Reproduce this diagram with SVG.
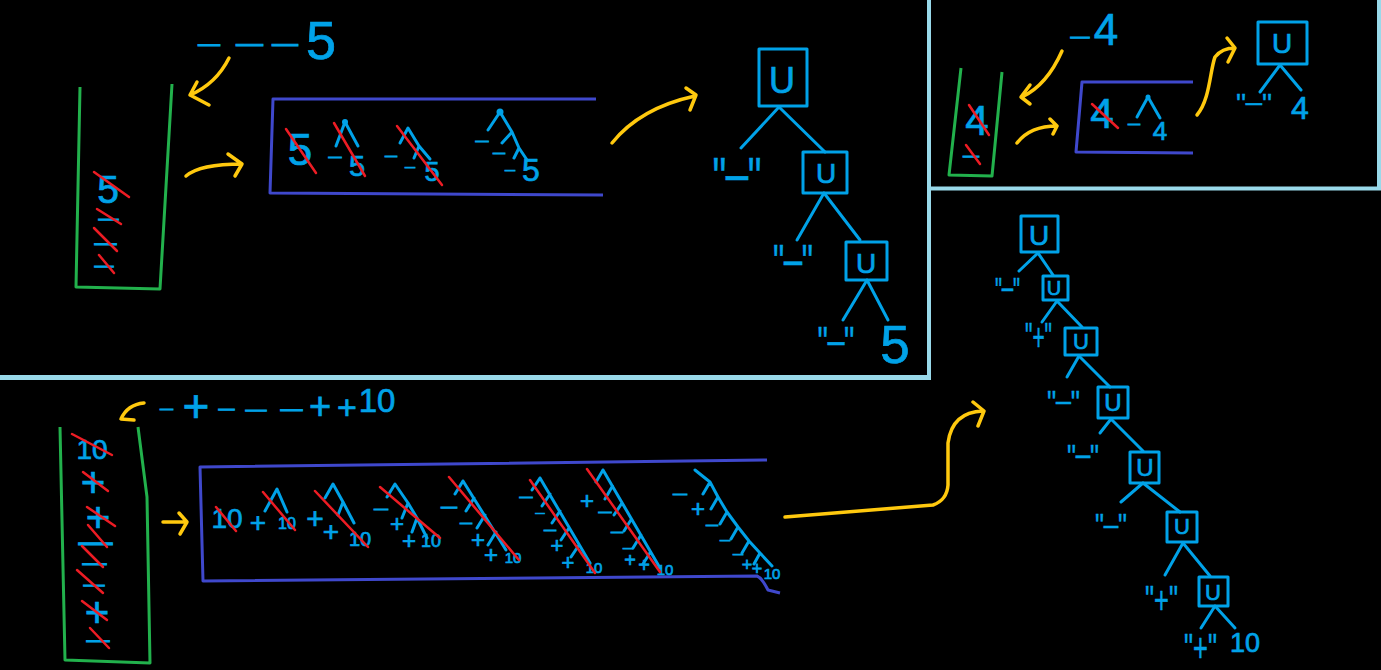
<svg xmlns="http://www.w3.org/2000/svg" width="1381" height="670" viewBox="0 0 1381 670">
<defs><style>
.t{fill:#00a2e8;stroke:#00a2e8;stroke-width:0.7;font-family:'Liberation Sans',Arial,sans-serif;text-anchor:middle;dominant-baseline:central}
.d{stroke-width:1}
.q{dominant-baseline:auto;stroke-width:0.3}
.l{stroke:#00a2e8;stroke-width:3;fill:none;stroke-linecap:round;stroke-linejoin:round}
.dot{fill:#00a2e8}
.r{stroke:#ed1c24;stroke-width:2.5;stroke-linecap:round}
.y{stroke:#ffc90e;stroke-width:3.5;fill:none;stroke-linecap:round;stroke-linejoin:round}
.g{stroke:#22b14c;stroke-width:3;fill:none;stroke-linejoin:round}
.i{stroke:#3f48cc;stroke-width:3;fill:none;stroke-linejoin:round}
.p{stroke:#99d9ea;fill:none}
</style></defs>
<rect width="1381" height="670" fill="#000"/>

<g id="panels">
<line class="p" x1="0" y1="377.5" x2="931" y2="377.5" stroke-width="5"/>
<line class="p" x1="929" y1="0" x2="929" y2="380" stroke-width="4"/>
<line class="p" x1="929" y1="188.5" x2="1381" y2="188.5" stroke-width="4"/>
<line class="p" x1="1379" y1="0" x2="1379" y2="190" stroke-width="4"/>
</g>

<!-- top-left panel -->
<g id="tl-input">
<text class="t d" x="209" y="43" font-size="22">—</text>
<text class="t d" x="249.5" y="43" font-size="27">—</text>
<text class="t d" x="285" y="43" font-size="26">—</text>
<text class="t" x="321" y="40" font-size="54">5</text>
</g>

<g id="tl-stack">
<path class="g" d="M80,87 L76,287 L160,289 L172,84"/>
<text class="t" x="108" y="189" font-size="39">5</text>
<text class="t d" x="108.5" y="218" font-size="20">—</text>
<text class="t d" x="105.5" y="242.5" font-size="22">—</text>
<text class="t d" x="104" y="264.5" font-size="19">—</text>
<line class="r" x1="94" y1="172" x2="129" y2="197"/>
<line class="r" x1="97" y1="209" x2="121" y2="224"/>
<line class="r" x1="94" y1="228" x2="117" y2="251"/>
<line class="r" x1="99" y1="255" x2="114" y2="273"/>
</g>

<g id="tl-queue">
<path class="i" d="M596,99 L273,99 L270,193 L603,195"/>
<text class="t" x="300" y="149" font-size="44">5</text>
<line class="r" x1="286" y1="129" x2="316" y2="173"/>
<circle class="dot" cx="345" cy="122" r="3"/>
<path class="l" d="M336,146 L345,122 L358,146"/>
<text class="t d" x="335" y="156" font-size="13">—</text>
<text class="t" x="357" y="166" font-size="29">5</text>
<line class="r" x1="334" y1="123" x2="365" y2="176"/>
<path class="l" d="M400,143 L408,128 L419,146 L430,159 M419,146 L414,158"/>
<text class="t d" x="391" y="156" font-size="12">—</text>
<text class="t d" x="410" y="166" font-size="10">—</text>
<text class="t" x="432" y="172" font-size="27">5</text>
<line class="r" x1="397" y1="126" x2="442" y2="185"/>
<circle class="dot" cx="500" cy="112" r="3.5"/>
<path class="l" d="M488,130 L500,112 L512,132 L519,148 L527,160 M512,132 L502,143 M519,148 L514,158"/>
<text class="t d" x="482" y="140" font-size="13">—</text>
<text class="t d" x="499" y="153" font-size="12">—</text>
<text class="t d" x="510" y="169" font-size="10">—</text>
<text class="t" x="531" y="170" font-size="32">5</text>
</g>

<g id="tl-u1"><rect class="l" x="759" y="49" width="48" height="57"/><text class="t" x="782" y="80" font-size="36">U</text></g>
<g id="tl-u2"><rect class="l" x="803" y="152" width="44" height="41"/><text class="t" x="826" y="173" font-size="28">U</text></g>
<g id="tl-u3"><rect class="l" x="846" y="242" width="41" height="38"/><text class="t" x="866" y="263" font-size="28">U</text></g>
<g id="tl-leaf1"><text class="t q" transform="translate(737,197.7) scale(1,1.5)" font-size="38.7">"<tspan dy="-0.5em">_</tspan><tspan dy="0.5em">"</tspan></text></g>
<g id="tl-leaf2"><text class="t q" transform="translate(793,280.3) scale(1,1.6)" font-size="31.6">"<tspan dy="-0.5em">_</tspan><tspan dy="0.5em">"</tspan></text></g>
<g id="tl-leaf3"><text class="t q" transform="translate(836,358.3) scale(1,1.5)" font-size="29.2">"<tspan dy="-0.5em">_</tspan><tspan dy="0.5em">"</tspan></text></g>
<g id="tl-leaf4"><text class="t" x="895" y="344" font-size="53">5</text></g>

<!-- top-right panel -->
<g id="tr-input">
<text class="t d" x="1080" y="35" font-size="19">—</text>
<text class="t" x="1106" y="29" font-size="44">4</text>
</g>
<g id="tr-stack">
<path class="g" d="M961,68 L949,175 L992,176 L1002,72"/>
<text class="t" x="977" y="120" font-size="42">4</text>
<line class="r" x1="969" y1="105" x2="989" y2="135"/>
<text class="t d" x="971" y="155" font-size="16">—</text>
<line class="r" x1="966" y1="145" x2="980" y2="164"/>
</g>
<g id="tr-queue">
<path class="i" d="M1193,82 L1082,82 L1076,152 L1193,153"/>
<text class="t" x="1102" y="113" font-size="42">4</text>
<line class="r" x1="1092" y1="104" x2="1118" y2="128"/>
<text class="t d" x="1134" y="124" font-size="12">—</text>
<circle class="dot" cx="1148" cy="97" r="2.5"/>
<path class="l" d="M1137,117 L1148,97 L1160,118"/>
<text class="t" x="1160" y="131" font-size="26">4</text>
</g>
<g id="tr-u1"><rect class="l" x="1258" y="22" width="49" height="42"/><text class="t" x="1282" y="43" font-size="28">U</text></g>
<g id="tr-leaf1"><text class="t q" transform="translate(1254,112.8)" font-size="28.4">"<tspan dy="-0.5em">_</tspan><tspan dy="0.5em">"</tspan></text></g>
<g id="tr-leaf2"><text class="t" x="1300" y="108" font-size="32">4</text></g>

<!-- bottom-left panel -->
<g id="bl-input">
<text class="t d" x="166.5" y="408" font-size="13">—</text>
<text class="t" x="196" y="406" font-size="46">+</text>
<text class="t d" x="226.5" y="408" font-size="16">—</text>
<text class="t d" x="256" y="408" font-size="21">—</text>
<text class="t d" x="291.5" y="408" font-size="22">—</text>
<text class="t" x="320" y="406" font-size="38">+</text>
<text class="t" x="347" y="407" font-size="34">+</text>
<text class="t" x="377" y="400" font-size="33">10</text>
</g>
<g id="bl-stack">
<path class="g" d="M60,427 L65,660 L150,663 L147,497 L138,427"/>
<text class="t" x="92" y="449" font-size="28">10</text>
<text class="t" x="93" y="482" font-size="42">+</text>
<text class="t" x="98" y="517" font-size="42">+</text>
<text class="t d" x="95.5" y="539.5" font-size="34">—</text>
<text class="t d" x="94.5" y="561" font-size="24">—</text>
<text class="t d" x="94" y="583.5" font-size="21">—</text>
<text class="t" x="97" y="612" font-size="42">+</text>
<text class="t d" x="98" y="638.5" font-size="23">—</text>
<line class="r" x1="72" y1="434" x2="112" y2="455"/>
<line class="r" x1="83" y1="472" x2="108" y2="491"/>
<line class="r" x1="87" y1="507" x2="115" y2="526"/>
<line class="r" x1="88" y1="525" x2="107" y2="547"/>
<line class="r" x1="82" y1="546" x2="103" y2="567"/>
<line class="r" x1="77" y1="570" x2="103" y2="593"/>
<line class="r" x1="82" y1="601" x2="107" y2="620"/>
<line class="r" x1="90" y1="628" x2="109" y2="648"/>
</g>

<g id="bl-queue">
<path class="i" d="M767,460 L200,467 L203,581 L757,576 Q762,578 768,590 L780,593"/>
<text class="t" x="227" y="518" font-size="28">10</text>
<line class="r" x1="216" y1="507" x2="236" y2="531"/>
<text class="t" x="258" y="522" font-size="28">+</text>
<path class="l" d="M265,511 L277,489 L287,512"/>
<text class="t" x="287" y="523" font-size="16">10</text>
<line class="r" x1="263" y1="492" x2="295" y2="530"/>
<text class="t" x="315" y="518" font-size="30">+</text>
<path class="l" d="M325,498 L333,484 L343,502 L354,523 M343,502 L338,515"/>
<text class="t" x="331" y="531" font-size="28">+</text>
<text class="t" x="360" y="539" font-size="20">10</text>
<line class="r" x1="315" y1="491" x2="368" y2="547"/>
<text class="t d" x="381" y="508" font-size="14">—</text>
<path class="l" d="M387,497 L395,484 L408,503 L417,518 L427,538 M408,503 L402,518 M417,518 L412,532"/>
<text class="t" x="397" y="523" font-size="24">+</text>
<text class="t" x="409" y="540" font-size="24">+</text>
<text class="t" x="431" y="541" font-size="18">10</text>
<line class="r" x1="380" y1="487" x2="440" y2="538"/>
<text class="t d" x="449" y="506" font-size="16">—</text>
<path class="l" d="M463,481 L506,550 M463,481 L455,494 M474,498 L466,511 M485,515 L477,528 M496,532 L488,545"/>
<text class="t d" x="466" y="523" font-size="12">—</text>
<text class="t" x="478" y="539" font-size="24">+</text>
<text class="t" x="491" y="554" font-size="24">+</text>
<text class="t" x="513" y="557" font-size="15">10</text>
<line class="r" x1="449" y1="477" x2="519" y2="560"/>
<text class="t d" x="526" y="496" font-size="13">—</text>
<path class="l" d="M540,478 L590,563 M540,478 L532,490 M550,494 L542,506 M560,511 L552,523 M569,528 L561,540 M579,545 L571,557"/>
<text class="t d" x="540" y="513" font-size="9">—</text>
<text class="t d" x="550" y="530" font-size="12">—</text>
<text class="t" x="557" y="545" font-size="22">+</text>
<text class="t" x="568" y="562" font-size="22">+</text>
<text class="t" x="594" y="567" font-size="15">10</text>
<line class="r" x1="530" y1="480" x2="595" y2="573"/>
<text class="t" x="587" y="500" font-size="24">+</text>
<path class="l" d="M603,470 L660,568 M603,470 L596,482 M612.5,486 L605,499 M622,503 L614,515 M631.5,519 L624,531 M641,535 L633,548 M650.5,552 L643,564"/>
<text class="t d" x="605" y="511" font-size="13">—</text>
<text class="t d" x="617" y="532" font-size="12">—</text>
<text class="t d" x="628" y="547" font-size="10">—</text>
<text class="t" x="630" y="560" font-size="20">+</text>
<text class="t" x="644" y="565" font-size="20">+</text>
<text class="t" x="665" y="569" font-size="15">10</text>
<line class="r" x1="587" y1="469" x2="660" y2="572"/>
<text class="t d" x="680" y="493" font-size="14">—</text>
<path class="l" d="M695,470 L710,482 L718,497 L727,512 L738,527 L749,541 L760,553 L772,566 M710,482 L703,494 M718,497 L711,509 M727,512 L720,524 M738,527 L731,539 M749,541 L742,553 M760,553 L754,564"/>
<text class="t" x="698" y="508" font-size="24">+</text>
<text class="t d" x="712" y="525" font-size="12">—</text>
<text class="t d" x="725" y="539" font-size="10">—</text>
<text class="t d" x="738" y="553" font-size="10">—</text>
<text class="t" x="747" y="565" font-size="18">+</text>
<text class="t" x="757" y="569" font-size="18">+</text>
<text class="t" x="772" y="573" font-size="15">10</text>
</g>

<!-- bottom-right tree -->
<g id="br-u1"><rect class="l" x="1021" y="216" width="37" height="36"/><text class="t" x="1039" y="235" font-size="28">U</text></g>
<g id="br-u2"><rect class="l" x="1043" y="276" width="25" height="24"/><text class="t" x="1054" y="288" font-size="20">U</text></g>
<g id="br-u3"><rect class="l" x="1065" y="328" width="32" height="27"/><text class="t" x="1081" y="341" font-size="22">U</text></g>
<g id="br-u4"><rect class="l" x="1098" y="387" width="30" height="31"/><text class="t" x="1113" y="402" font-size="24">U</text></g>
<g id="br-u5"><rect class="l" x="1130" y="452" width="29" height="31"/><text class="t" x="1145" y="467" font-size="24">U</text></g>
<g id="br-u6"><rect class="l" x="1167" y="512" width="30" height="30"/><text class="t" x="1182" y="526" font-size="22">U</text></g>
<g id="br-u7"><rect class="l" x="1199" y="577" width="29" height="29"/><text class="t" x="1213" y="592" font-size="22">U</text></g>
<g id="br-leaf1"><text class="t q" transform="translate(1007.5,301.5) scale(1,1.8)" font-size="19.7">"<tspan dy="-0.5em">_</tspan><tspan dy="0.5em">"</tspan></text></g>
<g id="br-leaf2"><text class="t q" transform="translate(1038.5,349.5) scale(1,1.83)" font-size="20.9">"+"</text></g>
<g id="br-leaf3"><text class="t q" transform="translate(1063.5,413.6) scale(1,1.3)" font-size="26">"<tspan dy="-0.5em">_</tspan><tspan dy="0.5em">"</tspan></text></g>
<g id="br-leaf4"><text class="t q" transform="translate(1083,468.9) scale(1,1.4)" font-size="25.3">"<tspan dy="-0.5em">_</tspan><tspan dy="0.5em">"</tspan></text></g>
<g id="br-leaf5"><text class="t q" transform="translate(1111,537.1) scale(1,1.3)" font-size="25.3">"<tspan dy="-0.5em">_</tspan><tspan dy="0.5em">"</tspan></text></g>
<g id="br-leaf6"><text class="t q" transform="translate(1161.5,612.5) scale(1,1.5)" font-size="25.5">"+"</text></g>
<g id="br-leaf7"><text class="t q" transform="translate(1200.5,661.7) scale(1,1.57)" font-size="25.5">"+"</text></g>
<g id="br-leaf8"><text class="t" x="1245" y="643" font-size="27">10</text></g>

<g id="connectors">
<path class="y" d="M229,58 Q216,84 190,95 M197,82 L190,95 L209,105"/>
<path class="y" d="M186,176 Q200,164 242,164 M228,154 L242,164 L235,176"/>
<path class="y" d="M612,143 Q640,108 695,96 M686,88 L696,95 L690,110"/>
<path class="y" d="M1062,51 Q1047,85 1022,97 M1030,85 L1021,97 L1030,104"/>
<path class="y" d="M1017,143 Q1030,126 1057,126 M1050,119 L1057,126 L1053,134"/>
<path class="y" d="M1197,115 C1210,100 1210,70 1215,57 Q1222,48 1235,48 M1227,38 L1235,48 L1228,62"/>
<path class="y" d="M144,403 C133,404 125,410 121,419 L134,420"/>
<path class="y" d="M163,522 L187,522 M179,513 L187,522 L180,534"/>
<path class="y" d="M785,517 L933,505 Q947,500 948,485 L948,443 Q952,412 983,411 M973,402 L984,411 L978,426"/>
<path class="l" d="M779,107 L741,148 M779,107 L825,152"/>
<path class="l" d="M824,193 L797,240 M824,193 L860,240"/>
<path class="l" d="M867,280 L843,320 M867,280 L888,320"/>
<path class="l" d="M1280,65 L1260,92 M1280,65 L1301,90"/>
<path class="l" d="M1038,253 L1019,271 M1038,253 L1053,275"/>
<path class="l" d="M1057,301 L1042,322 M1057,301 L1082,327"/>
<path class="l" d="M1079,356 L1067,377 M1079,356 L1110,387"/>
<path class="l" d="M1111,419 L1100,433 M1111,419 L1143,451"/>
<path class="l" d="M1143,483 L1121,502 M1143,483 L1180,512"/>
<path class="l" d="M1183,543 L1165,575 M1183,543 L1210,576"/>
<path class="l" d="M1215,606 L1201,628 M1215,606 L1235,628"/>
</g>
</svg>
